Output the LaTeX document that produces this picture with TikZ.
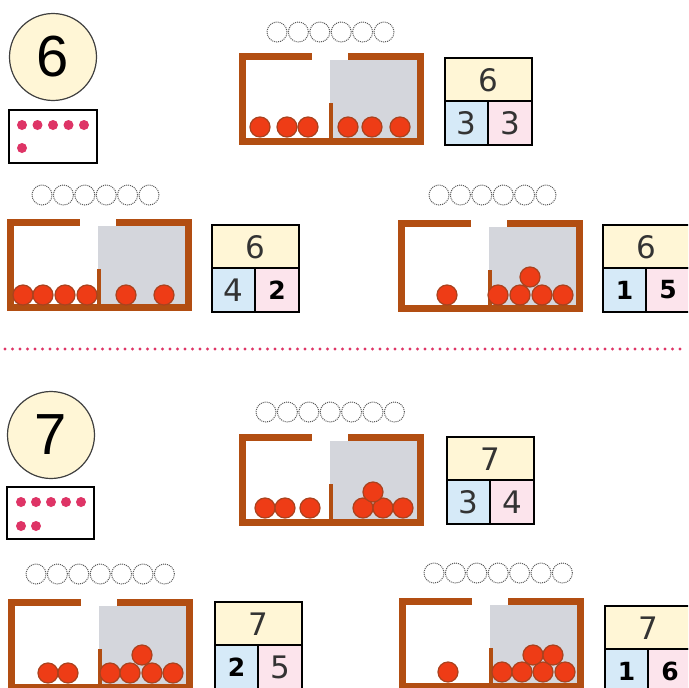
\documentclass[tikz,border=0pt]{standalone}
\usepackage{fontspec}
\setmainfont{DejaVu Sans}
\newfontfamily\bignum{Liberation Sans}
\usepackage{tikz}
\usepackage{xcolor}

\definecolor{wood}{RGB}{178,78,18}
\definecolor{ball}{RGB}{238,60,22}
\definecolor{balledge}{RGB}{170,66,30}
\definecolor{panegray}{RGB}{212,214,220}
\definecolor{cream}{RGB}{255,246,214}
\definecolor{skyblue}{RGB}{214,234,248}
\definecolor{rose}{RGB}{252,228,236}
\definecolor{dotpink}{RGB}{222,52,102}

\tikzset{
  numcircle/.style={circle, draw=black!75, line width=1.2pt, fill=cream,
    minimum size=87pt, inner sep=0pt, font=\bignum\fontsize{58}{58}\selectfont},
  cellnum/.style={font=\fontsize{31}{31}\selectfont, text=black!80},
  cellbold/.style={font=\fontsize{25}{25}\selectfont\bfseries}
}

% frame with an open top, shaded right half and low divider
\newcommand{\basket}[2]{%
  \fill[panegray] (#1+91,#2+7) rectangle (#1+178,#2+85);
  \fill[wood] (#1,#2) rectangle (#1+7,#2+92);
  \fill[wood] (#1,#2+85) rectangle (#1+185,#2+92);
  \fill[wood] (#1+178,#2) rectangle (#1+185,#2+92);
  \fill[wood] (#1,#2) rectangle (#1+73,#2+7);
  \fill[wood] (#1+109,#2) rectangle (#1+185,#2+7);
  \fill[wood] (#1+90,#2+50) rectangle (#1+93.5,#2+88);
}
% balls inside a frame, offsets from its corner
\newcommand{\balls}[3]{%
  \foreach \bx/\by in {#3}
    \filldraw[fill=ball, draw=balledge, line width=1.2pt] (#1+\bx,#2+\by) circle (10pt);
}
% empty dotted circles above a frame
\newcommand{\beads}[3]{%
  \foreach \i in {1,...,#3}
    \draw[black!65, densely dotted, line width=1pt] (#1+\i*21.4-21.4,#2) circle (10pt);
}
% number bond table
\newcommand{\parts}[7]{%
  \filldraw[fill=cream, line width=1.3pt] (#2,#3) rectangle (#2+87,#3+43);
  \filldraw[fill=skyblue, line width=1.3pt] (#2,#3+43) rectangle (#2+43,#3+87);
  \filldraw[fill=rose, line width=1.3pt] (#2+43,#3+43) rectangle (#2+87,#3+87);
  \node[cellnum] (#1-all) at (#2+43.5,#3+22) {#4};
  \node[#7] (#1-a) at (#2+21.5,#3+65) {#5};
  \node[#7] (#1-b) at (#2+65,#3+65) {#6};
}

\begin{document}
\begin{tikzpicture}[x=1pt, y=-1pt]
\clip (0,0) rectangle (688,688);
\fill[white] (0,0) rectangle (688,688);

% six
\node[numcircle] (six) at (53,57) {6};
\draw[line width=1.3pt] (9,110) rectangle (97,163);
\foreach \i in {0,...,4}
  \fill[dotpink] (22+\i*15.5,125) circle (5pt);
\fill[dotpink] (22,148) circle (5pt);

\beads{277}{32}{6}
\basket{239}{53}
\balls{239}{53}{21/74,48/74,69/74,109/74,133/74,161/74}
\parts{sixA}{445}{58}{6}{3}{3}{cellnum}

\beads{42}{195}{6}
\basket{7}{219}
\balls{7}{219}{16/76,36/76,58/76,80/76,119/76,157/76}
\filldraw[fill=cream, line width=1.3pt] (212,225) rectangle (299,268);
\filldraw[fill=skyblue, line width=1.3pt] (212,268) rectangle (255,312);
\filldraw[fill=rose, line width=1.3pt] (255,268) rectangle (299,312);
\node[cellnum] (sixB-all) at (255.5,247) {6};
\node[cellnum] (sixB-a) at (233.5,290) {4};
\node[cellbold] (sixB-b) at (277,290) {2};

\beads{439}{195}{6}
\basket{398}{220}
\balls{398}{220}{49/75,100/75,122/75,144/75,165/75,132/57}
\parts{sixC}{603}{225}{6}{1}{5}{cellbold}

% separator
\foreach \i in {0,...,90}
  \fill[dotpink] (5+\i*7.5,349) circle (1.7pt);

% seven
\node[numcircle] (seven) at (51,435) {7};
\draw[line width=1.3pt] (7,487) rectangle (94,539);
\foreach \i in {0,...,4}
  \fill[dotpink] (21+\i*15,502) circle (5pt);
\fill[dotpink] (21,526) circle (5pt);
\fill[dotpink] (36,526) circle (5pt);

\beads{266}{412}{7}
\basket{239}{434}
\balls{239}{434}{26/74,46/74,71/74,124/74,144/74,164/74,134/58}
\parts{sevenA}{447}{437}{7}{3}{4}{cellnum}

\beads{36}{574}{7}
\basket{8}{599}
\balls{8}{599}{40/74,60/74,102/74,122/74,144/74,165/74,134/56}
\filldraw[fill=cream, line width=1.3pt] (215,602) rectangle (302,645);
\filldraw[fill=skyblue, line width=1.3pt] (215,645) rectangle (258,689);
\filldraw[fill=rose, line width=1.3pt] (258,645) rectangle (302,689);
\node[cellnum] (sevenB-all) at (258.5,624) {7};
\node[cellbold] (sevenB-a) at (236.5,667) {2};
\node[cellnum] (sevenB-b) at (280,667) {5};

\beads{434}{573}{7}
\basket{399}{598}
\balls{399}{598}{49/74,103/74,123/74,144/74,166/74,134/57,154/57}
\parts{sevenC}{605}{606}{7}{1}{6}{cellbold}
\end{tikzpicture}
\end{document}
